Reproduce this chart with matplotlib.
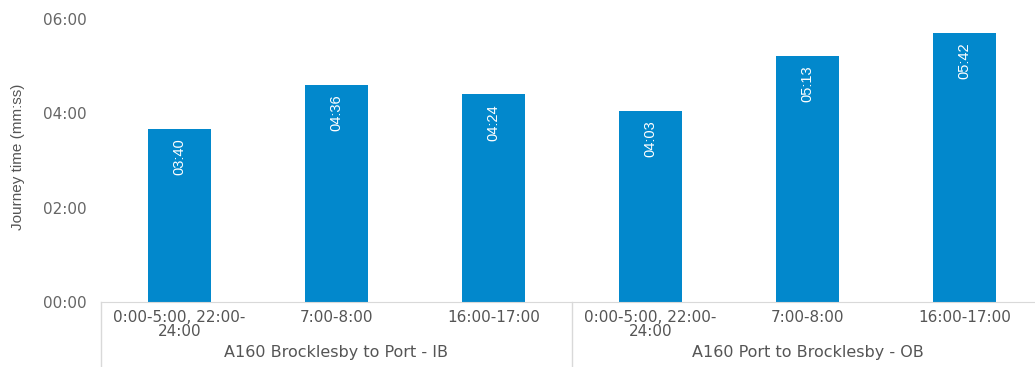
import matplotlib
matplotlib.use("Agg")
import matplotlib.pyplot as plt
from matplotlib.transforms import blended_transform_factory

# journey times in seconds
periods = ["0:00-5:00, 22:00-\n24:00", "7:00-8:00", "16:00-17:00",
           "0:00-5:00, 22:00-\n24:00", "7:00-8:00", "16:00-17:00"]
routes = ["A160 Brocklesby to Port - IB", "A160 Port to Brocklesby - OB"]
times = [220, 276, 264, 243, 313, 342]
yticks = [0, 120, 240, 360]

def mmss(s):
    return "%02d:%02d" % (s // 60, s % 60)

fig = plt.figure(figsize=(10.35, 3.67), dpi=100)
ax = fig.add_axes([101/1035, 65/367, 942/1035, 283/367])

x = list(range(len(times)))
bars = ax.bar(x, times, width=0.4, color="#0288CC")
ax.set_xlim(-0.5, len(times) - 0.5)
ax.set_ylim(0, 360)

for b, t in zip(bars, times):
    ax.text(b.get_x() + b.get_width()/2, t - 12, mmss(t), rotation=90,
            ha="center", va="top", color="white", fontsize=10.5,
            family="Liberation Sans")

for s in ["top", "right", "left"]:
    ax.spines[s].set_visible(False)
ax.spines["bottom"].set_color("#d9d9d9")
ax.tick_params(axis="both", length=0)

ax.set_yticks(yticks)
ax.set_yticklabels([mmss(v) for v in yticks], fontsize=11, color="#666666")
ax.tick_params(axis="y", pad=10)
fig.text(18/1035, 1 - 157/367, "Journey time (mm:ss)", rotation=90,
         ha="center", va="center", fontsize=11, color="#555555",
         family="Liberation Sans")

ax.set_xticks(x)
ax.set_xticklabels(periods, fontsize=11, color="#555555", linespacing=0.85)
ax.tick_params(axis="x", pad=6)

# second level of category labels with separators
tr = blended_transform_factory(ax.transData, ax.transAxes)
for xs in [-0.5, 2.5]:
    ax.plot([xs, xs], [0, -0.24], transform=tr, color="#d9d9d9", lw=1, clip_on=False)
for i, r in enumerate(routes):
    ax.text(i*3 + 1, -0.18, r, transform=tr, ha="center", va="center",
            fontsize=11.5, color="#555555")

fig.savefig("out.png", dpi=100)
